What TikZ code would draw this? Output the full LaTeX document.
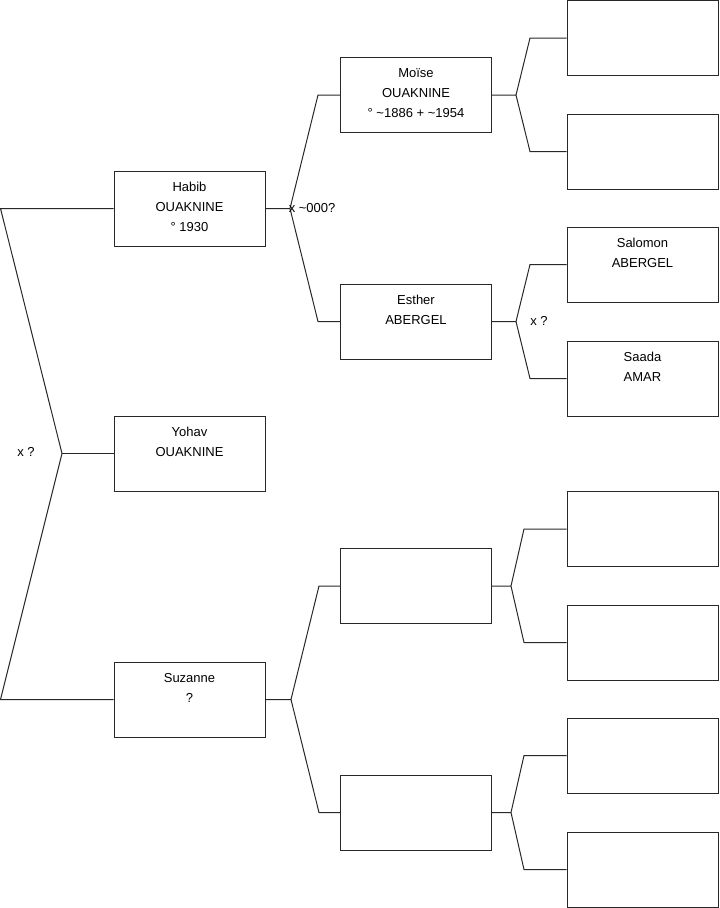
\documentclass[tikz,border=0pt]{standalone}
\usepackage{fontspec}
\setmainfont{Liberation Sans}
\usetikzlibrary{positioning}
\definecolor{Ink}{RGB}{40,40,40}
% one person: empty frame, text hung from its top edge
\newcommand{\person}[4]{%
  \node[pbox] (#1) at (#2,#3) {};
  \node[ptext, below=8.6pt of #1.north] (#1-txt) {#4};
}
\tikzset{
  pbox/.style={rectangle,draw=Ink,line width=0.75pt,fill=white,
               minimum width=113.25pt,minimum height=56.25pt,inner sep=0pt},
  ptext/.style={font=\fontsize{9.75}{15}\selectfont,align=center,inner sep=0pt},
  mlabel/.style={font=\fontsize{9.75}{15}\selectfont,inner sep=0pt},
  tline/.style={draw=Ink,line width=0.75pt},
}

\begin{document}
\begin{tikzpicture}[x=0.75pt,y=-0.75pt]
  \useasboundingbox (0,0) rectangle (719,908);

  % generation 1
  \person{habib}{189.5}{208.5}{Habib\\OUAKNINE\\° 1930}
  \person{yohav}{189.5}{453.5}{Yohav\\OUAKNINE}
  \person{suzanne}{189.5}{699.5}{Suzanne\\?}

  % generation 2
  \person{moise}{416}{95}{Moïse\\OUAKNINE\\° \textasciitilde1886 + \textasciitilde1954}
  \person{esther}{416}{321.5}{Esther\\ABERGEL}
  \node[pbox] (g3c) at (416,586) {};
  \node[pbox] (g3d) at (416,812.5) {};

  % generation 3
  \node[pbox] (g4a) at (642.5,38) {};
  \node[pbox] (g4b) at (642.5,151.5) {};
  \person{salomon}{642.5}{264.5}{Salomon\\ABERGEL}
  \person{saada}{642.5}{378.5}{Saada\\AMAR}
  \node[pbox] (g4e) at (642.5,529) {};
  \node[pbox] (g4f) at (642.5,642.5) {};
  \node[pbox] (g4g) at (642.5,755.5) {};
  \node[pbox] (g4h) at (642.5,869.5) {};

  % siblings bracket
  \coordinate (lt) at (0.5,208.5);
  \coordinate (lb) at (0.5,699.5);
  \coordinate (f1) at (62,453.5);
  \draw[tline] (habib.west) -- (lt) -- (f1) -- (lb) -- (suzanne.west);
  \draw[tline] (f1) -- (yohav.west);

  % parent forks
  \foreach \pa/\up/\dn/\fx/\ex in {habib/moise/esther/290/318,
      moise/g4a/g4b/516/530, esther/salomon/saada/516/530,
      suzanne/g3c/g3d/291/319, g3c/g4e/g4f/511/524, g3d/g4g/g4h/511/524}
    \draw[tline] (\pa.east) -- (\pa.east -| \fx,0) coordinate (\pa-fork)
      -- (\up.west -| \ex,0) -- (\up.west)
      (\pa-fork) -- (\dn.west -| \ex,0) -- (\dn.west);

  % marriages
  \node[mlabel] (mx1) at (26,452) {x ?};
  \node[mlabel, anchor=west] (mx2) at (288.5,208) {x \textasciitilde000?};
  \node[mlabel] (mx3) at (539,320.5) {x ?};
\end{tikzpicture}
\end{document}
